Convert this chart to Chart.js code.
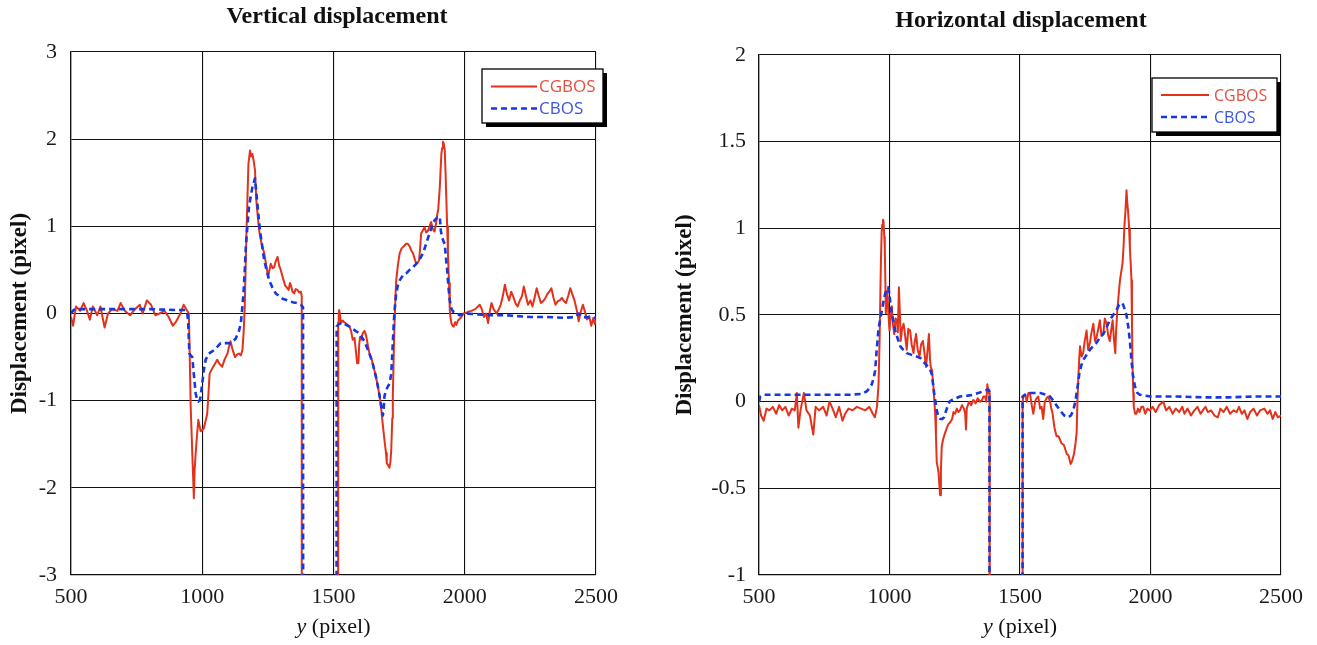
<!DOCTYPE html>
<html>
<head>
<meta charset="utf-8">
<script src="https://cdn.jsdelivr.net/npm/chart.js@4.4.1/dist/chart.umd.min.js"></script>
<style>
  html, body { margin: 0; padding: 0; background: #ffffff; }
  body { width: 1317px; height: 645px; position: relative; overflow: hidden; }
  canvas { position: absolute; top: 0; }
  #cv1 { left: 0; }
  #cv2 { left: 660px; }
</style>
</head>
<body>
<canvas id="cv1" width="660" height="645"></canvas>
<canvas id="cv2" width="657" height="645"></canvas>
<script>
// ---------------- DATA ----------------
const seriesNames = ['CGBOS', 'CBOS'];
const xTickValues = [500, 1000, 1500, 2000, 2500];
const xTickLabels = ['500', '1000', '1500', '2000', '2500'];
const vertYTicks = [-3, -2, -1, 0, 1, 2, 3];
const vertYLabels = ['-3', '-2', '-1', '0', '1', '2', '3'];
const horzYTicks = [-1, -0.5, 0, 0.5, 1, 1.5, 2];
const horzYLabels = ['-1', '-0.5', '0', '0.5', '1', '1.5', '2'];
const titles = ['Vertical displacement', 'Horizontal displacement'];
const yAxisTitle = 'Displacement (pixel)';
const xAxisVar = 'y';
const xAxisUnit = ' (pixel)';

// Vertical displacement, CGBOS (values below -3 run off the chart; null = gap)
const vertCgbosX = [500,508,519,535,548,561,572,583,600,612,628,641,657,677,689,705,725,744,762,773,789,805,821,837,856,872,888,901,917,929,941,949,953,956,962,965,968,971,975,980,985,994,1006,1019,1024,1028,1038,1048,1057,1066,1076,1086,1096,1102,1108,1116,1125,1133,1140,1147,1153,1158,1162,1165,1168,1172,1176,1182,1186,1191,1196,1201,1206,1212,1217,1226,1236,1244,1251,1256,1261,1268,1274,1280,1287,1293,1299,1308,1316,1322,1329,1334,1338,1344,1350,1356,1363,1370,1376,1379,1380,1450,1516,1518,1520,1522,1526,1529,1535,1541,1550,1561,1567,1573,1580,1586,1590,1595,1598,1601,1606,1611,1618,1624,1630,1637,1645,1652,1660,1669,1676,1682,1688,1694,1700,1703,1708,1713,1717,1720,1724,1726,1730,1733,1736,1739,1745,1752,1760,1771,1777,1783,1790,1797,1803,1810,1815,1820,1826,1830,1834,1840,1847,1853,1860,1866,1872,1878,1885,1890,1894,1899,1905,1908,1911,1914,1917,1920,1924,1927,1930,1933,1936,1940,1943,1946,1949,1953,1958,1963,1968,1974,1981,1987,1994,2000,2012,2025,2040,2057,2065,2073,2081,2089,2095,2102,2110,2121,2130,2137,2145,2153,2161,2169,2177,2185,2193,2201,2210,2218,2225,2233,2241,2250,2258,2266,2274,2282,2290,2298,2306,2314,2322,2330,2338,2346,2354,2362,2370,2378,2386,2394,2402,2410,2418,2426,2434,2442,2450,2458,2466,2474,2482,2490,2495,2500];
const vertCgbosY = [-0.04,-0.14,0.08,0.03,0.12,0.03,-0.07,0.08,-0.02,0.08,-0.16,0,0.05,0.03,0.12,0.03,-0.02,0.05,0.1,0,0.15,0.1,-0.02,0,0.03,-0.04,-0.14,-0.09,0,0.1,0.04,0.0,-0.6,-1.07,-1.6,-1.85,-2.12,-1.8,-1.6,-1.4,-1.22,-1.35,-1.32,-1.15,-0.9,-0.69,-0.63,-0.58,-0.53,-0.58,-0.61,-0.52,-0.46,-0.38,-0.32,-0.42,-0.5,-0.47,-0.46,-0.48,-0.42,-0.2,0.08,0.5,0.88,1.3,1.72,1.87,1.8,1.83,1.75,1.64,1.3,1.1,0.95,0.8,0.69,0.55,0.42,0.5,0.57,0.52,0.53,0.6,0.65,0.55,0.5,0.4,0.32,0.3,0.27,0.35,0.32,0.25,0.23,0.28,0.27,0.24,0.25,0.2,-20,null,-20,-0.1,0.0,0.04,-0.05,-0.11,-0.08,-0.1,-0.12,-0.15,-0.2,-0.3,-0.28,-0.45,-0.57,-0.57,-0.35,-0.27,-0.3,-0.23,-0.2,-0.25,-0.35,-0.46,-0.52,-0.61,-0.7,-0.84,-0.95,-1.1,-1.28,-1.45,-1.6,-1.72,-1.74,-1.77,-1.7,-1.56,-1.2,-0.95,-0.4,-0.08,0.2,0.38,0.55,0.69,0.75,0.78,0.8,0.8,0.77,0.72,0.69,0.62,0.57,0.58,0.61,0.75,0.92,0.95,0.99,0.93,0.95,1.0,1.05,0.97,0.94,1.02,1.11,1.2,1.45,1.65,1.83,1.9,1.97,1.95,1.87,1.6,1.3,1.0,0.69,0.35,0.04,-0.05,-0.11,-0.14,-0.15,-0.1,-0.13,-0.08,-0.06,-0.04,0,0,0.02,0.03,0.05,0.1,0.05,-0.04,0.0,-0.11,0.02,0.12,0.05,0,0.05,0.1,0.2,0.33,0.22,0.15,0.25,0.19,0.12,0.08,0.15,0.2,0.31,0.2,0.1,0.15,0.08,0.18,0.29,0.2,0.12,0.14,0.17,0.22,0.25,0.29,0.18,0.1,0.14,0.15,0.18,0.14,0.12,0.2,0.29,0.22,0.15,0.05,-0.09,0.02,0.1,0.02,-0.07,-0.03,-0.14,-0.05,-0.12,-0.07];

// Vertical displacement, CBOS
const vertCbosX = [500,510,520,600,700,800,900,936,943,946,949,951,956,962,968,975,980,985,990,994,1000,1006,1013,1025,1035,1045,1058,1070,1090,1108,1120,1127,1140,1147,1152,1157,1162,1166,1172,1178,1185,1191,1196,1201,1205,1210,1215,1220,1228,1236,1245,1255,1267,1280,1293,1306,1325,1344,1360,1376,1384,1386,1450,1510,1512,1520,1535,1548,1561,1580,1599,1618,1637,1650,1662,1672,1682,1688,1691,1694,1700,1707,1714,1720,1725,1730,1735,1739,1745,1752,1765,1777,1790,1803,1815,1828,1841,1853,1866,1875,1885,1895,1905,1909,1913,1920,1924,1928,1933,1938,1943,1950,1956,1968,1981,2000,2050,2100,2153,2200,2250,2314,2380,2420,2435,2445,2500];
const vertCbosY = [0.0,0.04,0.05,0.05,0.05,0.05,0.04,0.04,0.0,-0.08,-0.3,-0.46,-0.48,-0.5,-0.7,-0.92,-0.98,-1.01,-1.0,-0.95,-0.8,-0.65,-0.53,-0.46,-0.44,-0.42,-0.38,-0.34,-0.34,-0.34,-0.31,-0.29,-0.2,-0.11,0.05,0.23,0.5,0.76,1.0,1.22,1.35,1.45,1.5,1.55,1.42,1.26,1.1,0.95,0.78,0.61,0.5,0.38,0.3,0.23,0.2,0.17,0.15,0.13,0.12,0.1,0.07,-20,null,-20,-0.15,-0.12,-0.11,-0.13,-0.15,-0.19,-0.23,-0.32,-0.46,-0.58,-0.73,-0.88,-1.07,-1.17,-1.1,-0.95,-0.88,-0.84,-0.8,-0.69,-0.4,-0.08,0.12,0.23,0.32,0.38,0.44,0.46,0.5,0.53,0.57,0.62,0.69,0.8,0.92,1.0,1.07,1.1,1.11,0.95,0.88,0.82,0.8,0.65,0.5,0.3,0.15,0.05,0.02,0.0,-0.02,0.0,-0.01,-0.02,-0.02,-0.03,-0.04,-0.04,-0.05,-0.04,0.0,-0.04,-0.05];

// Horizontal displacement, CGBOS
const horzCgbosX = [500,508,518,529,540,553,566,577,589,601,614,626,637,645,651,659,672,682,695,708,717,730,746,759,770,782,794,807,820,830,843,859,875,891,907,923,936,944,952,958,962,967,970,972,975,977,980,982,986,989,992,996,1000,1004,1009,1013,1018,1023,1028,1032,1036,1040,1043,1048,1054,1060,1066,1072,1079,1085,1092,1097,1102,1108,1115,1121,1128,1134,1140,1146,1151,1155,1158,1163,1168,1172,1175,1178,1181,1185,1188,1191,1194,1197,1200,1205,1213,1220,1226,1232,1240,1245,1251,1258,1264,1270,1278,1285,1290,1293,1296,1298,1305,1313,1321,1330,1338,1347,1355,1360,1366,1371,1375,1380,1383,1384,1450,1508,1510,1513,1520,1526,1532,1538,1545,1551,1558,1564,1570,1577,1583,1589,1595,1602,1608,1615,1620,1625,1632,1640,1648,1659,1668,1679,1686,1694,1700,1707,1712,1717,1720,1723,1727,1730,1736,1742,1748,1755,1761,1768,1774,1781,1787,1793,1800,1806,1812,1819,1825,1832,1838,1844,1850,1855,1860,1865,1868,1872,1877,1883,1888,1893,1897,1900,1904,1908,1911,1915,1918,1921,1924,1927,1929,1931,1934,1936,1941,1946,1952,1958,1965,1972,1980,1988,1997,2008,2020,2033,2049,2060,2072,2085,2097,2110,2122,2130,2142,2155,2168,2180,2192,2205,2211,2220,2232,2245,2258,2268,2280,2292,2305,2318,2330,2339,2350,2360,2371,2382,2395,2408,2420,2436,2448,2458,2468,2478,2488,2500];
const horzCgbosY = [-0.02,-0.08,-0.11,-0.04,-0.05,-0.03,-0.07,-0.02,-0.05,-0.03,-0.08,-0.04,-0.05,0.05,-0.15,-0.05,0.05,-0.05,-0.08,-0.19,-0.03,-0.05,-0.03,-0.08,0.0,-0.04,-0.09,-0.03,-0.11,-0.07,-0.04,-0.05,-0.03,-0.04,-0.05,-0.03,-0.07,-0.09,-0.03,0.1,0.35,0.8,0.98,1.02,1.05,1.04,0.95,0.89,0.51,0.6,0.64,0.5,0.41,0.5,0.55,0.45,0.39,0.48,0.47,0.4,0.66,0.5,0.35,0.42,0.45,0.38,0.3,0.42,0.41,0.33,0.28,0.35,0.39,0.3,0.26,0.33,0.35,0.28,0.2,0.3,0.39,0.25,0.2,0.18,0.09,0.0,-0.07,-0.2,-0.35,-0.38,-0.41,-0.48,-0.54,-0.4,-0.26,-0.22,-0.18,-0.15,-0.13,-0.12,-0.1,-0.06,-0.07,-0.04,-0.06,-0.05,-0.02,-0.04,-0.07,-0.16,-0.04,-0.03,0.0,-0.02,0.01,-0.01,0.02,0.0,0.01,0.03,0.03,0.0,0.1,0.05,0.05,-20,null,-20,0.0,0.03,0.04,0.0,0.05,0.05,-0.02,-0.07,0.0,0.02,0.03,-0.04,-0.03,-0.1,0.0,0.02,0.03,0.0,-0.04,-0.07,-0.15,-0.2,-0.2,-0.24,-0.25,-0.3,-0.31,-0.36,-0.34,-0.3,-0.25,-0.18,0.0,0.12,0.25,0.32,0.26,0.28,0.35,0.41,0.3,0.34,0.4,0.45,0.35,0.37,0.42,0.47,0.38,0.39,0.48,0.45,0.38,0.35,0.42,0.47,0.36,0.28,0.4,0.51,0.6,0.7,0.75,0.8,0.9,1.01,1.1,1.22,1.15,1.08,1.0,0.89,0.8,0.7,0.45,0.22,0.05,-0.03,-0.07,-0.07,-0.04,-0.06,-0.03,-0.03,-0.07,-0.04,-0.05,-0.03,-0.06,-0.02,0.0,-0.05,-0.03,-0.07,-0.04,-0.06,-0.03,-0.07,-0.04,-0.08,-0.05,-0.03,-0.07,-0.04,-0.03,-0.06,-0.05,-0.08,-0.09,-0.04,-0.06,-0.03,-0.07,-0.05,-0.06,-0.03,-0.07,-0.05,-0.1,-0.06,-0.04,-0.08,-0.05,-0.04,-0.07,-0.05,-0.1,-0.06,-0.09,-0.08];

// Horizontal displacement, CBOS
const horzCbosX = [500,505,520,700,850,894,913,925,932,940,945,950,954,958,964,970,977,983,990,995,1000,1004,1009,1015,1022,1030,1041,1052,1066,1085,1105,1120,1130,1149,1157,1162,1167,1171,1176,1181,1188,1194,1202,1209,1215,1222,1230,1239,1255,1270,1300,1321,1340,1360,1379,1383,1384,1450,1508,1510,1527,1550,1577,1600,1615,1630,1653,1670,1685,1695,1704,1712,1717,1722,1727,1735,1742,1755,1768,1780,1793,1806,1819,1832,1844,1857,1870,1880,1889,1895,1902,1908,1915,1921,1927,1933,1940,1950,1959,2000,2100,2200,2300,2400,2500];
const horzCbosY = [0.0,0.03,0.04,0.04,0.04,0.045,0.06,0.08,0.1,0.14,0.18,0.28,0.35,0.42,0.47,0.52,0.58,0.62,0.65,0.66,0.62,0.56,0.51,0.46,0.41,0.37,0.32,0.3,0.28,0.27,0.26,0.25,0.23,0.2,0.18,0.16,0.1,0.05,0.0,-0.05,-0.09,-0.1,-0.1,-0.09,-0.06,-0.03,0.0,0.01,0.02,0.03,0.035,0.04,0.05,0.06,0.07,0.06,-20,null,-20,0.03,0.05,0.05,0.05,0.04,0.03,0.0,-0.05,-0.08,-0.09,-0.08,-0.05,0.0,0.05,0.1,0.16,0.21,0.24,0.27,0.3,0.32,0.34,0.37,0.39,0.43,0.47,0.5,0.53,0.56,0.57,0.56,0.53,0.5,0.43,0.35,0.24,0.15,0.09,0.05,0.04,0.03,0.03,0.025,0.025,0.03,0.03];

// ---------------- RENDERING ----------------
const RED = '#e3321b';
const BLUE = '#1638e0';
const SERIF = "'Liberation Serif', 'Times New Roman', 'DejaVu Serif', serif";
const SANS = "'Open Sans', 'Noto Sans', 'Liberation Sans', sans-serif";

function toPoints(xs, ys) { return xs.map((x, i) => ({ x: x, y: ys[i] })); }

const decoPlugin = {
  id: 'deco',
  afterDraw(chart, args, opts) {
    const ctx = chart.ctx;
    const ca = chart.chartArea;
    ctx.save();
    // chart title
    ctx.fillStyle = '#111';
    ctx.font = 'bold 24px ' + SERIF;
    ctx.textAlign = 'center';
    ctx.textBaseline = 'middle';
    ctx.fillText(opts.title, opts.titleX, opts.titleY);
    // x-axis title: italic variable + unit
    ctx.font = 'italic 22px ' + SERIF;
    const w1 = ctx.measureText(xAxisVar).width;
    ctx.font = '22px ' + SERIF;
    const w2 = ctx.measureText(xAxisUnit).width;
    const cx = (ca.left + ca.right) / 2;
    let sx = cx - (w1 + w2) / 2;
    ctx.textAlign = 'left';
    ctx.font = 'italic 22px ' + SERIF;
    ctx.fillText(xAxisVar, sx, opts.xTitleY);
    ctx.font = '22px ' + SERIF;
    ctx.fillText(xAxisUnit, sx + w1, opts.xTitleY);
    // legend box with drop shadow
    const L = opts.legend;
    const bx = ca.right + L.dx, by = ca.top + L.dy;
    ctx.fillStyle = '#000';
    ctx.fillRect(bx + 4, by + 4, L.w, L.h);
    ctx.fillStyle = '#fff';
    ctx.fillRect(bx, by, L.w, L.h);
    ctx.strokeStyle = '#000';
    ctx.lineWidth = 1.3;
    ctx.strokeRect(bx, by, L.w, L.h);
    const ds = chart.data.datasets;
    const rows = [L.row1, L.row2];
    ctx.font = L.fontSize + 'px ' + SANS;
    ctx.textBaseline = 'middle';
    ctx.textAlign = 'left';
    ds.forEach((d, i) => {
      const yy = by + rows[i];
      ctx.beginPath();
      ctx.strokeStyle = d.borderColor;
      ctx.lineWidth = d.borderWidth;
      ctx.setLineDash(d.borderDash || []);
      ctx.moveTo(bx + L.lx0, yy);
      ctx.lineTo(bx + L.lx1, yy);
      ctx.stroke();
      ctx.setLineDash([]);
      ctx.fillStyle = d.legendTextColor;
      ctx.fillText(d.label, bx + L.tx, yy + 1);
    });
    ctx.restore();
  }
};

function makeChart(canvasId, cfg) {
  const datasets = [
    {
      label: seriesNames[0],
      data: toPoints(cfg.redX, cfg.redY),
      borderColor: RED,
      borderWidth: 2,
      legendTextColor: '#e2503f',
      order: 1
    },
    {
      label: seriesNames[1],
      data: toPoints(cfg.blueX, cfg.blueY),
      borderColor: BLUE,
      borderWidth: 2.6,
      borderDash: [6, 4],
      legendTextColor: '#3e55de',
      order: 0
    }
  ];
  return new Chart(document.getElementById(canvasId), {
    type: 'line',
    data: { datasets: datasets },
    options: {
      responsive: false,
      animation: false,
      spanGaps: false,
      layout: { padding: { top: cfg.padTop, right: cfg.padRight, bottom: 0, left: 0 } },
      elements: { point: { radius: 0 }, line: { tension: 0, borderJoinStyle: 'round' } },
      plugins: {
        legend: { display: false },
        tooltip: { enabled: false },
        deco: {
          title: cfg.title, titleX: cfg.titleX, titleY: cfg.titleY,
          xTitleY: 627,
          legend: cfg.legend
        }
      },
      scales: {
        x: {
          type: 'linear',
          min: 500, max: 2500,
          afterBuildTicks: s => { s.ticks = xTickValues.map(v => ({ value: v })); },
          afterFit: s => { s.height = cfg.xHeight; },
          ticks: {
            padding: 9,
            color: '#1a1a1a',
            font: { family: SERIF, size: 22 },
            maxRotation: 0,
            autoSkip: false,
            callback: (v) => xTickLabels[xTickValues.indexOf(v)]
          },
          grid: { color: '#111', lineWidth: 1.1, drawTicks: false },
          border: { color: '#111', width: 1.3 }
        },
        y: {
          min: cfg.yTicks[0], max: cfg.yTicks[cfg.yTicks.length - 1],
          afterBuildTicks: s => { s.ticks = cfg.yTicks.map(v => ({ value: v })); },
          afterFit: s => { s.width = cfg.yWidth; },
          ticks: {
            padding: cfg.yTickPad,
            color: '#1a1a1a',
            font: { family: SERIF, size: 22 },
            autoSkip: false,
            callback: (v) => cfg.yLabels[cfg.yTicks.indexOf(v)]
          },
          title: {
            display: true,
            text: yAxisTitle,
            color: '#111',
            font: { family: SERIF, size: 23, weight: 'bold' },
            padding: { top: cfg.yTitlePad, bottom: 0 }
          },
          grid: { color: '#111', lineWidth: 1.1, drawTicks: false },
          border: { color: '#111', width: 1.3 }
        }
      }
    },
    plugins: [decoPlugin]
  });
}

makeChart('cv1', {
  title: titles[0], titleX: 337, titleY: 17,
  redX: vertCgbosX, redY: vertCgbosY, blueX: vertCbosX, blueY: vertCbosY,
  yTicks: vertYTicks, yLabels: vertYLabels,
  padTop: 52, padRight: 64, yWidth: 71, xHeight: 70,
  yTickPad: 14, yTitlePad: 6,
  legend: { dx: -114, dy: 17, w: 121, h: 54, lx0: 9, lx1: 55, tx: 57, row1: 17.5, row2: 39.5, fontSize: 17 }
});

makeChart('cv2', {
  title: titles[1], titleX: 361, titleY: 21,
  redX: horzCgbosX, redY: horzCgbosY, blueX: horzCbosX, blueY: horzCbosY,
  yTicks: horzYTicks, yLabels: horzYLabels,
  padTop: 55, padRight: 36, yWidth: 99, xHeight: 70,
  yTickPad: 13, yTitlePad: 11,
  legend: { dx: -129, dy: 23, w: 125, h: 54, lx0: 9, lx1: 57, tx: 62, row1: 17, row2: 39, fontSize: 16 }
});
</script>
</body>
</html>
